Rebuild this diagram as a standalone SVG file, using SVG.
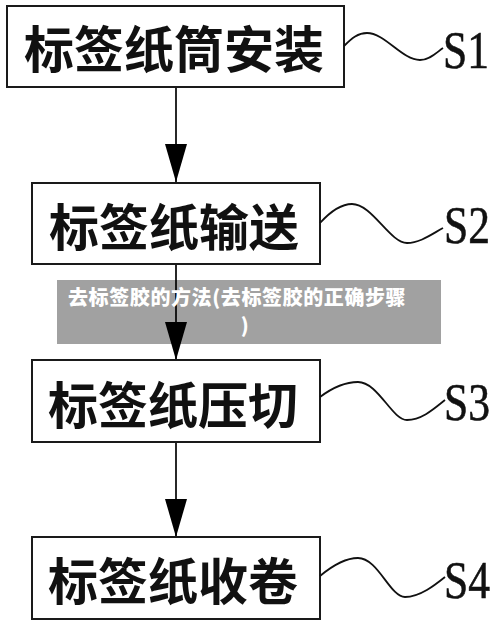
<svg xmlns="http://www.w3.org/2000/svg" width="500" height="625" viewBox="0 0 500 625">
<style>
.box{fill:#fff;stroke:#1a1a1a;stroke-width:2}
.lbl{font-family:"Noto Sans CJK SC",sans-serif;font-weight:700;font-size:50px;fill:#111;text-anchor:middle;dominant-baseline:central}
.sl{font-family:"Liberation Serif",serif;font-size:53px;fill:#111;stroke:#111;stroke-width:0.6}
.wave{fill:none;stroke:#111;stroke-width:1.8}
.conn{fill:none;stroke:#111;stroke-width:1.8}
.ban{font-family:"Noto Sans CJK SC",sans-serif;font-weight:900;font-size:20px;letter-spacing:0.6px;fill:#fff}
</style>
<defs>
<marker id="ah" markerUnits="userSpaceOnUse" markerWidth="38" markerHeight="22" refX="38" refY="11" orient="auto">
<path d="M0,0 L38,11 L0,22 z" fill="#000"/>
</marker>
</defs>
<rect width="500" height="625" fill="#fff"/>
<g id="connectors">
<path class="conn" d="M176,87 V182" marker-end="url(#ah)"/>
<path class="conn" d="M176,264 V360" marker-end="url(#ah)"/>
<path class="conn" d="M176,442 V537" marker-end="url(#ah)"/>
</g>
<g id="s1">
<rect class="box" x="7" y="6" width="337" height="81"/>
<text class="lbl" x="174" y="46">标签纸筒安装</text>
<path class="wave" d="M344,46 C352,38 358,33 367,33 C385,33 402,60 420,60 C430,60 437,52 443,48"/>
<text class="sl" x="443" y="68" textLength="46" lengthAdjust="spacingAndGlyphs">S1</text>
</g>
<g id="s2">
<rect class="box" x="32" y="183" width="288" height="81"/>
<text class="lbl" x="174" y="224">标签纸输送</text>
<path class="wave" d="M320,223 C330,212 340,204 352,204 C372,204 390,243 407,243 C420,243 432,234 443,228"/>
<text class="sl" x="444" y="243" textLength="46" lengthAdjust="spacingAndGlyphs">S2</text>
</g>
<g id="s3">
<rect class="box" x="32" y="360" width="288" height="82"/>
<text class="lbl" x="173" y="402">标签纸压切</text>
<path class="wave" d="M320,397 C332,388 345,382 358,382 C378,382 392,420 407,420 C422,420 435,408 445,400"/>
<text class="sl" x="444" y="420" textLength="46" lengthAdjust="spacingAndGlyphs">S3</text>
</g>
<g id="s4">
<rect class="box" x="32" y="537" width="288" height="82"/>
<text class="lbl" x="173" y="578">标签纸收卷</text>
<path class="wave" d="M320,576 C332,566 345,558 358,558 C378,558 390,597 405,597 C420,597 435,585 445,577"/>
<text class="sl" x="444" y="598" textLength="46" lengthAdjust="spacingAndGlyphs">S4</text>
</g>
<g id="banner">
<rect x="57" y="280" width="384" height="64" fill="#000" fill-opacity="0.37"/>
<text class="ban" x="68" y="305">去标签胶的方法(去标签胶的正确步骤</text>
<text class="ban" x="245" y="333" text-anchor="middle">)</text>
</g>
</svg>
